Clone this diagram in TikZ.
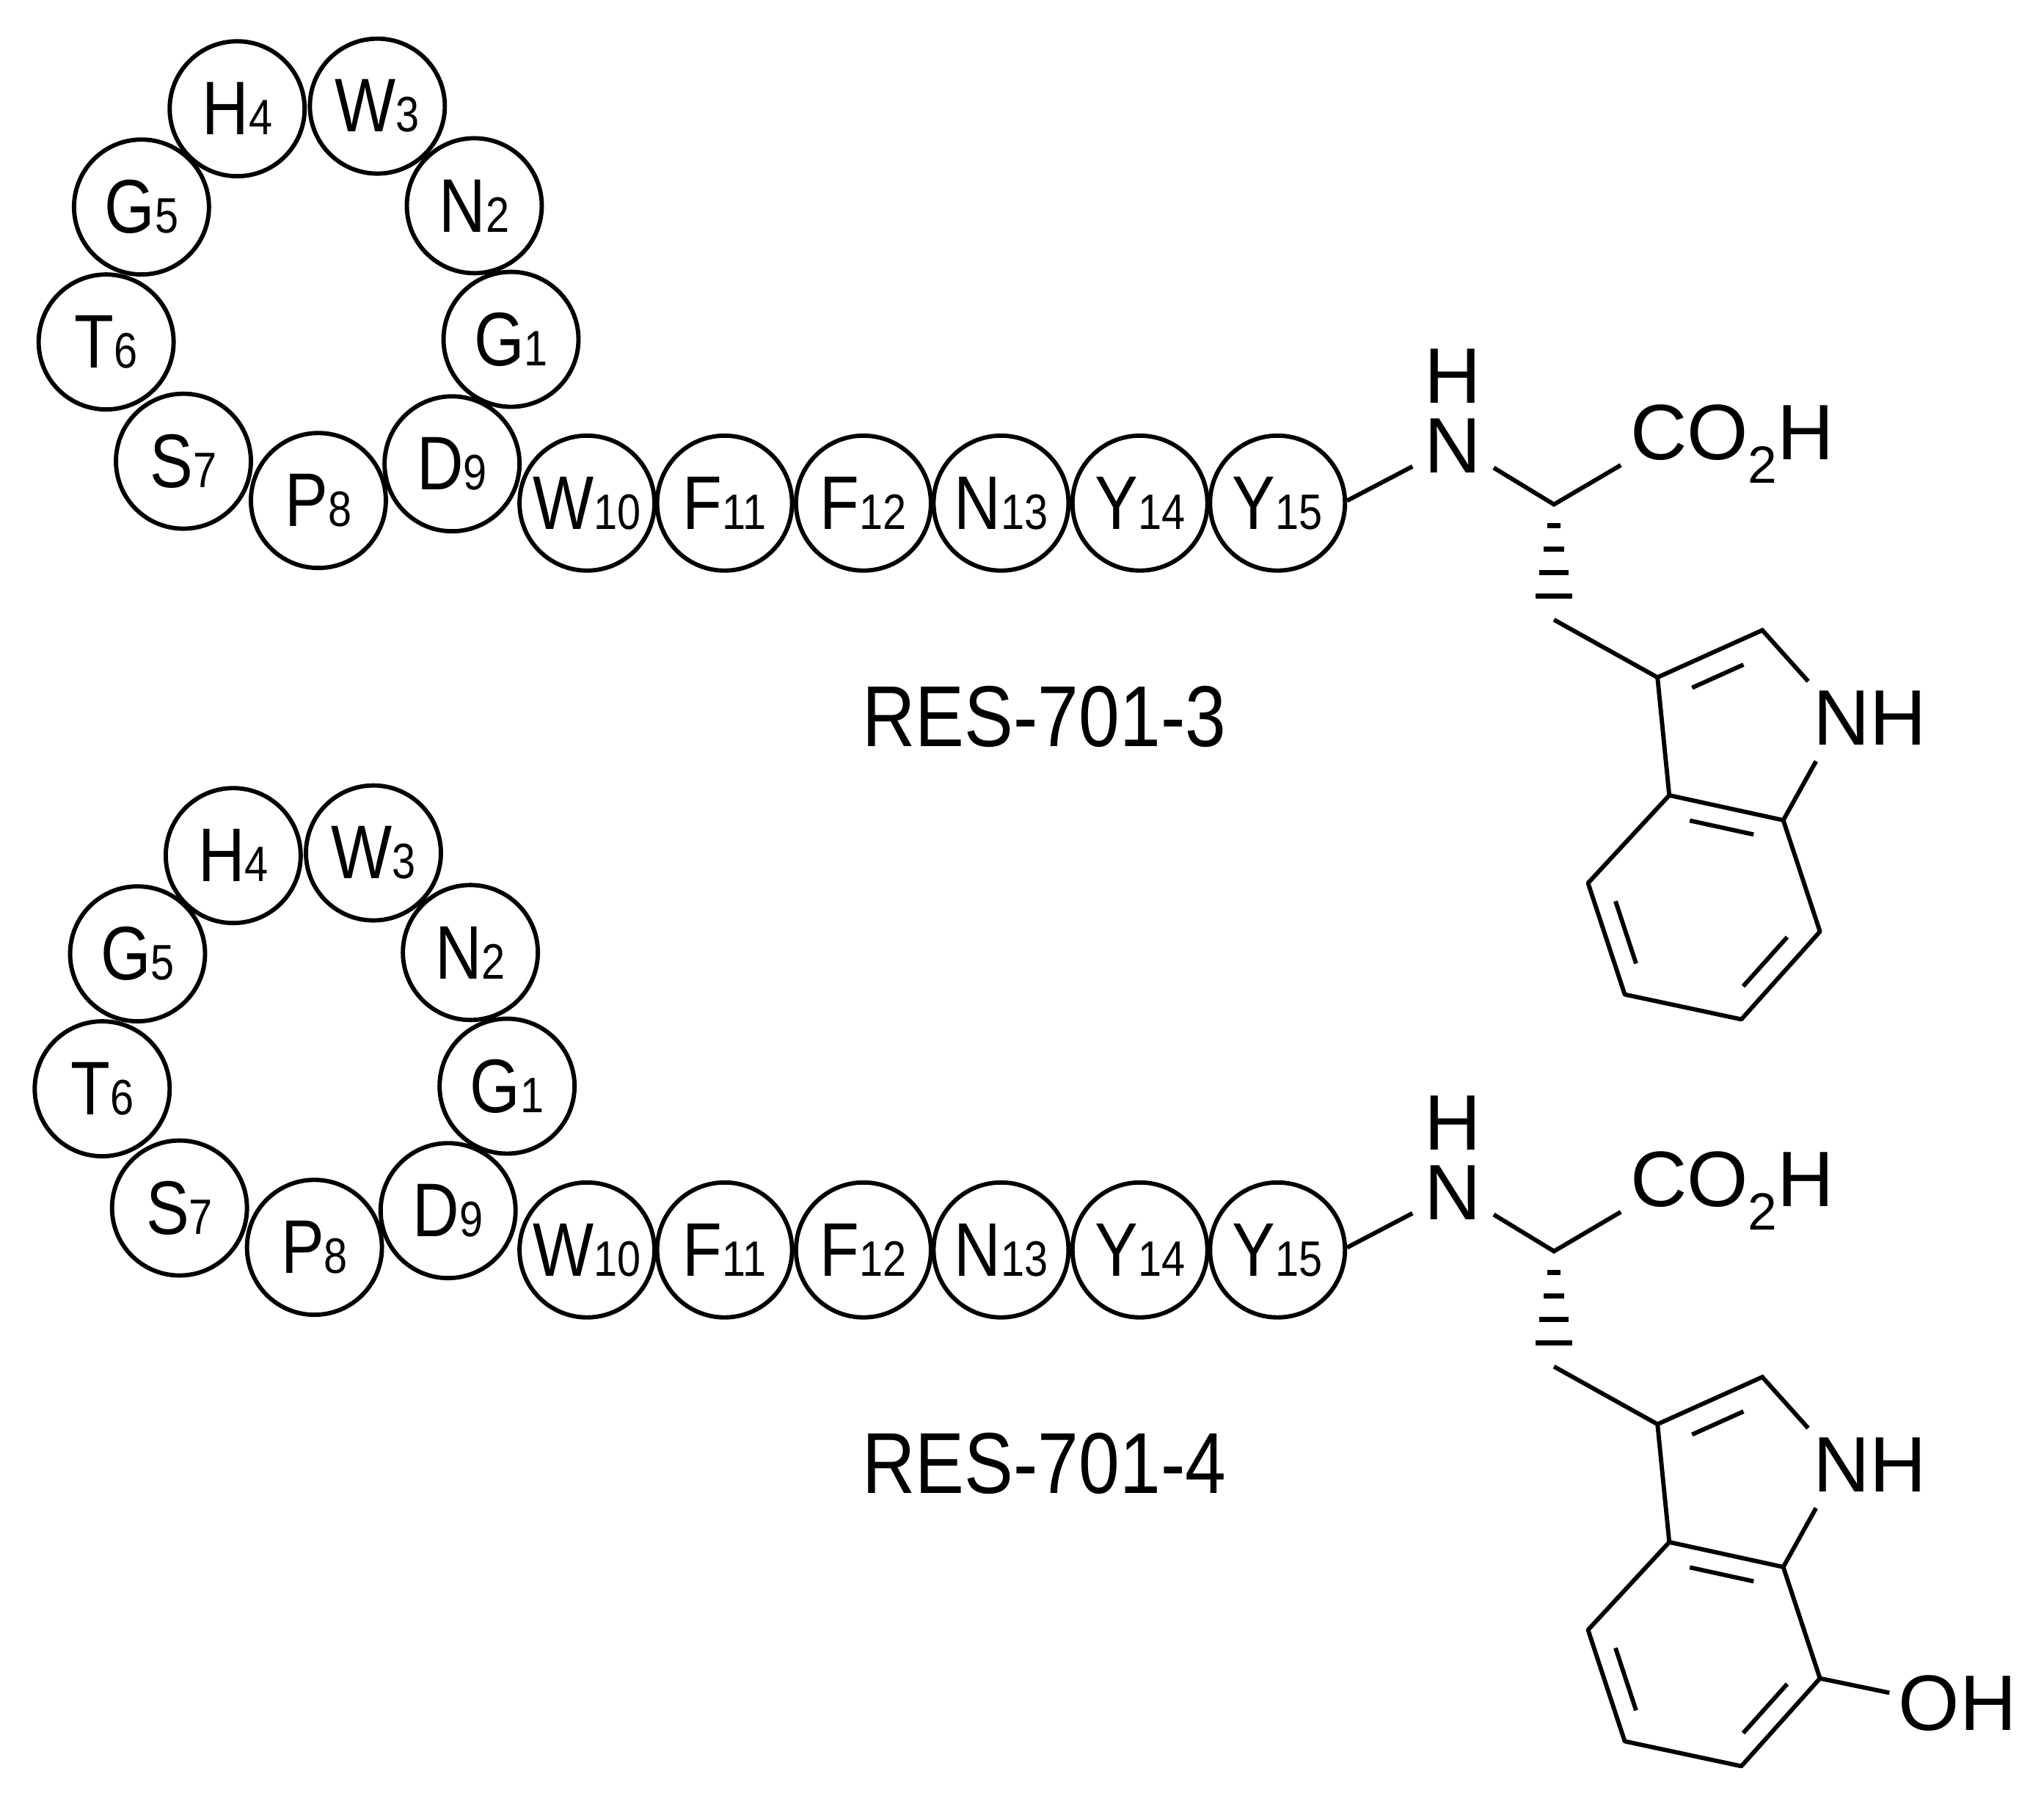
\documentclass[tikz,border=0pt]{standalone}
\usepackage{fontspec}
\setmainfont{Liberation Sans}
\newfontfamily\narrowf[FakeStretch=0.85]{Liberation Sans}
\usetikzlibrary{calc}
\newcommand{\res}[2]{{\narrowf\fontsize{58}{60}\selectfont #1\fontsize{38}{40}\selectfont #2}}
\tikzset{
  aa/.style={circle,draw,line width=3.3pt,minimum size=103pt,inner sep=0pt},
  bond/.style={line width=3.3pt},
  lbl/.style={inner sep=0pt,font=\fontsize{60}{64}\selectfont},
}
\begin{document}
\begin{tikzpicture}[x=1pt,y=-1pt]
\useasboundingbox (0,0) rectangle (1560,1368);
\foreach \dy/\dx/\nm/\oh in {0/0/RES-701-3/0,570/-3/RES-701-4/1}{
\begin{scope}[shift={(\dx,\dy)}]
\node[aa] (g1) at (390,259) {\res{G}{1}};
\node[aa] (n2) at (362,157) {\res{N}{2}};
\node[aa] (w3) at (288,81) {\res{W}{3}};
\node[aa] (h4) at (181,83) {\res{H}{4}};
\node[aa] (g5) at (108,158) {\res{G}{5}};
\node[aa] (t6) at (81,261) {\res{T}{6}};
\node[aa] (s7) at (140,352) {\res{S}{7}};
\node[aa] (p8) at (243,382) {\res{P}{8}};
\node[aa] (d9) at (345,354) {\res{D}{9}};
\end{scope}
\begin{scope}[shift={(0,\dy)}]
\node[aa] (w10) at (448,384) {\res{W}{10}};
\node[aa] (f11) at (553,384) {\res{F}{11}};
\node[aa] (f12) at (659,384) {\res{F}{12}};
\node[aa] (n13) at (764,384) {\res{N}{13}};
\node[aa] (y14) at (870,384) {\res{Y}{14}};
\node[aa] (y15) at (975,384) {\res{Y}{15}};
\node[lbl] (nn) at (1109,340) {N};
\node[lbl] (nh) at (1109,287) {H};
\node[lbl,anchor=west] (co) at (1244,339) {CO\raisebox{-0.3em}{\fontsize{40}{40}\selectfont 2}H};
\node[font=\narrowf\fontsize{66}{70}\selectfont] (name) at (797,547) {\nm};
\coordinate (ca) at (1186,385);
\coordinate (cb) at (1186,473);
\coordinate (c3) at (1265,517);
\coordinate (c2) at (1345,481);
\coordinate (c3a) at (1274,607);
\coordinate (c7a) at (1361,626);
\coordinate (c4) at (1212,674);
\coordinate (c5) at (1240,759);
\coordinate (c6) at (1329,778);
\coordinate (c7) at (1389,711);
\coordinate (bz) at (1300,692);
\coordinate (py) at (1325,556);
\node[lbl] (in) at (1427,548) {NH};
\draw[bond] (y15.2) -- (1078,356);
\draw[bond] (1140,357) -- (ca) -- (1237,355);
\foreach \i/\w in {0/5,1/8,2/11,3/14}{
  \draw[line width=3.8pt] ($(1186,401)+(-\w,18*\i)$) -- ++(2*\w,0);
}
\draw[bond] (cb) -- (c3) -- (c2) -- (1380,520);
\draw[bond] (1386,581) -- (c7a) -- (c3a) -- (c3);
\draw[bond,line join=round] (c3a) -- (c4) -- (c5) -- (c6) -- (c7) -- (c7a);
\draw[bond] ($($(c3)!0.15!(c2)$)!0.3!(py)$) -- ($($(c2)!0.15!(c3)$)!0.3!(py)$);
\draw[bond] ($($(c3a)!0.15!(c7a)$)!0.2!(bz)$) -- ($($(c7a)!0.15!(c3a)$)!0.2!(bz)$);
\draw[bond] ($($(c4)!0.15!(c5)$)!0.2!(bz)$) -- ($($(c5)!0.15!(c4)$)!0.2!(bz)$);
\draw[bond] ($($(c6)!0.15!(c7)$)!0.2!(bz)$) -- ($($(c7)!0.15!(c6)$)!0.2!(bz)$);
\ifnum\oh=1
  \node[lbl] (oh) at (1494,730) {OH};
  \draw[bond] (c7) -- (1442,722);
\fi
\end{scope}
}
\end{tikzpicture}
\end{document}
